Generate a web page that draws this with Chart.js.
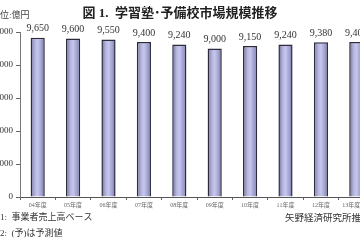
<!DOCTYPE html>
<html>
<head>
<meta charset="utf-8">
<script src="https://cdn.jsdelivr.net/npm/chart.js@4"></script>
<style>
  html, body { margin: 0; padding: 0; background: #fff; overflow: hidden; }
  #wrap { position: relative; width: 360px; height: 240px; overflow: hidden; }
  #wrap canvas { position: absolute; left: -15px; top: 0; }
</style>
</head>
<body>
<div id="wrap"><canvas id="myChart" width="395" height="240"></canvas></div>
<script>
// data
const years = ['04年度', '05年度', '06年度', '07年度', '08年度', '09年度', '10年度', '11年度', '12年度', '13年度(予)'];
const marketSize = [9650, 9600, 9550, 9400, 9240, 9000, 9150, 9240, 9380, 9400];
const yTicks = [0, 2000, 4000, 6000, 8000, 10000];

const titleText = '図 1.  学習塾･予備校市場規模推移';
const unitText = '単位:億円';
const notes = ['注1:  事業者売上高ベース', '注2:  (予)は予測値'];
const sourceText = '矢野経済研究所推計';

const serif = '"Liberation Serif", "DejaVu Serif", "Noto Sans CJK JP", serif';
const OFF = 15; // canvas is shifted left by this much

// gradient for each bar, horizontal across the bar
function barFill(context) {
    const chart = context.chart;
    if (!chart.chartArea) return '#b4b4dc';
    const x = chart.scales.x.getPixelForValue(context.dataIndex);
    const w = 7;
    const g = chart.ctx.createLinearGradient(x - w, 0, x + w, 0);
    g.addColorStop(0, '#6e6e9c');
    g.addColorStop(0.3, '#b4b4dc');
    g.addColorStop(0.5, '#c6c6ee');
    g.addColorStop(0.8, '#9e9ece');
    g.addColorStop(1, '#66668f');
    return g;
}

const textPlugin = {
    id: 'texts',
    afterDraw(chart) {
        const ctx = chart.ctx;
        ctx.save();
        // title
        ctx.fillStyle = '#222';
        ctx.font = 'bold 13px ' + serif;
        ctx.textAlign = 'center';
        ctx.textBaseline = 'middle';
        ctx.fillText(titleText, 180 + OFF, 14);
        // unit
        ctx.font = '9px ' + serif;
        ctx.textAlign = 'left';
        ctx.fillStyle = '#444';
        ctx.fillText(unitText, -9 + OFF, 16);
        // value labels
        ctx.font = '10px ' + serif;
        ctx.textAlign = 'center';
        ctx.fillStyle = '#333';
        const meta = chart.getDatasetMeta(0);
        meta.data.forEach((bar, i) => {
            ctx.fillText(marketSize[i].toLocaleString('en-US'), bar.x, bar.y - 9);
        });
        // footnotes
        ctx.font = '9px ' + serif;
        ctx.textAlign = 'left';
        ctx.fillStyle = '#333';
        ctx.fillText(notes[0], -9 + OFF, 218);
        ctx.fillText(notes[1], -9 + OFF, 234);
        ctx.font = '9.5px ' + serif;
        ctx.fillText(sourceText, 285 + OFF, 218);
        ctx.restore();
    }
};

const ctx = document.getElementById('myChart').getContext('2d');
const chart = new Chart(ctx, {
    type: 'bar',
    data: {
        labels: years,
        datasets: [{
            data: marketSize,
            backgroundColor: barFill,
            borderColor: '#2c2c3c',
            borderWidth: 1.5,
            borderSkipped: 'bottom',
            categoryPercentage: 1,
            barPercentage: 0.4
        }]
    },
    options: {
        responsive: false,
        animation: false,
        layout: { padding: { top: 32, right: 6, left: 0, bottom: 0 } },
        plugins: {
            legend: { display: false },
            tooltip: { enabled: false }
        },
        scales: {
            x: {
                grid: {
                    offset: true,
                    drawOnChartArea: false,
                    tickLength: 3,
                    color: '#666'
                },
                border: { color: '#555', width: 1 },
                ticks: {
                    font: { size: 6, family: serif },
                    color: '#666',
                    padding: 2,
                    maxRotation: 0,
                    autoSkip: false
                },
                afterFit(scale) { scale.height = 43; }
            },
            y: {
                min: 0,
                max: 10000,
                afterBuildTicks(scale) {
                    scale.ticks = yTicks.map(v => ({ value: v }));
                },
                grid: {
                    drawOnChartArea: false,
                    tickLength: 4,
                    color: '#666'
                },
                border: { color: '#777', width: 1 },
                ticks: {
                    font: { size: 9, family: serif },
                    color: '#333',
                    padding: 3,
                    callback: v => v.toLocaleString('en-US')
                },
                afterFit(scale) { scale.width = 35; }
            }
        }
    },
    plugins: [textPlugin]
});
</script>
</body>
</html>
